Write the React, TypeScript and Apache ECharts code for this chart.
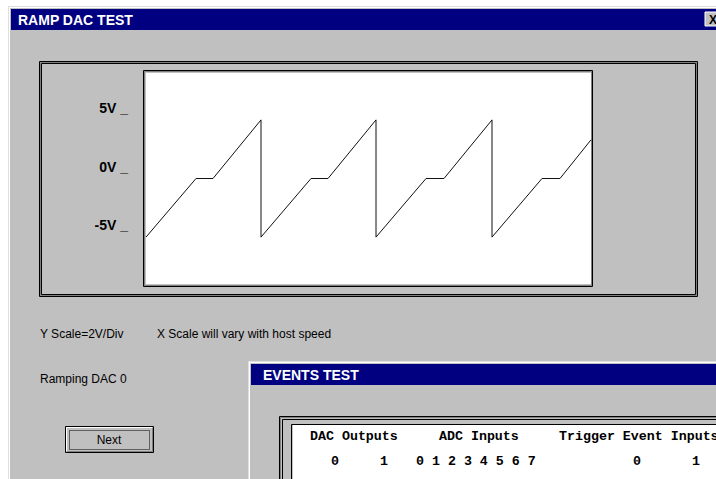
import React, { useEffect, useRef } from "react";
import * as echarts from "echarts";

// Ramp DAC trace (x = sample position, y = volts)
const rampTime = [0, 50, 67, 115, 115, 165, 182, 230, 230, 280, 298, 346, 346, 396, 414, 445];
const rampVolts = [-5, 0, 0, 5, -5, 0, 0, 5, -5, 0, 0, 5, -5, 0, 0, 3.3];
const yTickValues = [-5, 0, 5];
const yTickUnit = "V";

const windowTitle = "RAMP DAC TEST";
const scaleNoteY = "Y Scale=2V/Div";
const scaleNoteX = "X Scale will vary with host speed";
const statusText = "Ramping DAC 0";
const buttonText = "Next";
const eventsTitle = "EVENTS TEST";
const eventsHeaders = ["DAC Outputs", "ADC Inputs", "Trigger Event Inputs"];
const eventsRow = ["0", "1", "0 1 2 3 4 5 6 7", "0", "1"];

const SANS = "'Liberation Sans', Arial, sans-serif";
const MONO = "'Liberation Mono', 'Courier New', monospace";

function frameRect(x: number, y: number, w: number, h: number, stroke: string, z = 1) {
  return {
    type: "rect",
    z,
    silent: true,
    shape: { x, y, width: w, height: h },
    style: { fill: "none", stroke, lineWidth: 1 },
  };
}

function txt(x: number, y: number, text: string, opts: any = {}, z = 3) {
  return {
    type: "text",
    z,
    silent: true,
    x,
    y,
    style: {
      text,
      fill: opts.fill || "#000",
      font: opts.font || `12px ${SANS}`,
      textAlign: opts.align || "left",
      textVerticalAlign: "middle",
      verticalAlign: "middle",
    },
  };
}

export default function App() {
  const ref = useRef<HTMLDivElement>(null);

  useEffect(() => {
    if (!ref.current) return;
    const chart = echarts.init(ref.current, undefined, { renderer: "svg" });

    const elements: any[] = [
      // main window
      { type: "rect", z: 0, silent: true, shape: { x: 8, y: 6, width: 720, height: 480 }, style: { fill: "#dfdfdf" } },
      { type: "rect", z: 0, silent: true, shape: { x: 9, y: 7, width: 720, height: 480 }, style: { fill: "#ffffff" } },
      { type: "rect", z: 0, silent: true, shape: { x: 10, y: 8, width: 720, height: 480 }, style: { fill: "#c0c0c0" } },
      { type: "rect", z: 1, silent: true, shape: { x: 11, y: 9, width: 710, height: 21 }, style: { fill: "#000080" } },
      txt(18, 19.5, windowTitle, { fill: "#ffffff", font: `bold 14px ${SANS}` }),
      // close button
      { type: "rect", z: 2, silent: true, shape: { x: 705, y: 12, width: 16, height: 14 }, style: { fill: "#c0c0c0", stroke: "#ffffff", lineWidth: 1 } },
      txt(709, 19.5, "X", { font: `bold 12px ${SANS}` }),

      // outer chart frame
      frameRect(39.5, 61.5, 658, 235, "#000000"),
      frameRect(40.5, 62.5, 656, 233, "#808080"),
      frameRect(41.5, 63.5, 654, 231, "#000000"),

      // inner plot frame
      frameRect(143.5, 70.5, 449, 216, "#000000"),
      frameRect(144.5, 71.5, 447, 214, "#808080"),
      { type: "rect", z: 1, silent: true, shape: { x: 146, y: 73, width: 445, height: 211 }, style: { fill: "#ffffff" } },

      // notes
      txt(40, 334, scaleNoteY, { font: `12px ${SANS}` }),
      txt(157, 334, scaleNoteX, { font: `12px ${SANS}` }),
      txt(40, 379, statusText, { font: `12px ${SANS}` }),

      // Next button
      { type: "rect", z: 2, silent: true, shape: { x: 65.5, y: 426.5, width: 88, height: 26 }, style: { fill: "#c0c0c0", stroke: "#000000", lineWidth: 1 } },
      { type: "polyline", z: 2, silent: true, shape: { points: [[66.5, 451], [66.5, 427.5], [152, 427.5]] }, style: { stroke: "#ffffff", fill: "none", lineWidth: 1 } },
      { type: "polyline", z: 2, silent: true, shape: { points: [[67, 451.5], [152.5, 451.5], [152.5, 428]] }, style: { stroke: "#808080", fill: "none", lineWidth: 1 } },
      { type: "rect", z: 2, silent: true, shape: { x: 69.5, y: 430.5, width: 80, height: 19 }, style: { fill: "none", stroke: "#000000", lineWidth: 1, lineDash: [1, 1] } },
      txt(109, 440, buttonText, { font: `12px ${SANS}`, align: "center" }),

      // Events window
      { type: "rect", z: 6, silent: true, shape: { x: 248, y: 361, width: 480, height: 130 }, style: { fill: "#dfdfdf" } },
      { type: "rect", z: 6, silent: true, shape: { x: 249, y: 362, width: 480, height: 130 }, style: { fill: "#ffffff" } },
      { type: "rect", z: 6, silent: true, shape: { x: 250, y: 363, width: 480, height: 130 }, style: { fill: "#c0c0c0" } },
      { type: "rect", z: 6, silent: true, shape: { x: 251, y: 364, width: 470, height: 21 }, style: { fill: "#000080" } },
      txt(263, 374.5, eventsTitle, { fill: "#ffffff", font: `bold 14px ${SANS}` }, 7),
      frameRect(279.5, 416.5, 460, 80, "#000000", 7),
      frameRect(280.5, 417.5, 460, 80, "#808080", 7),
      frameRect(282.5, 419.5, 460, 80, "#000000", 7),
      frameRect(291.5, 424.5, 460, 80, "#000000", 7),
      { type: "rect", z: 7, silent: true, shape: { x: 293, y: 425, width: 430, height: 60 }, style: { fill: "#ffffff" } },
      txt(310, 436, eventsHeaders[0], { font: `bold 13.3px ${MONO}` }, 8),
      txt(439, 436, eventsHeaders[1], { font: `bold 13.3px ${MONO}` }, 8),
      txt(559, 436, eventsHeaders[2], { font: `bold 13.3px ${MONO}` }, 8),
      txt(331, 461, eventsRow[0], { font: `bold 13.3px ${MONO}` }, 8),
      txt(380, 461, eventsRow[1], { font: `bold 13.3px ${MONO}` }, 8),
      txt(416, 461, eventsRow[2], { font: `bold 13.3px ${MONO}` }, 8),
      txt(633, 461, eventsRow[3], { font: `bold 13.3px ${MONO}` }, 8),
      txt(692, 461, eventsRow[4], { font: `bold 13.3px ${MONO}` }, 8),
    ];

    chart.setOption({
      animation: false,
      backgroundColor: "#ffffff",
      grid: { left: 146, top: 73, width: 445, height: 211, show: false, containLabel: false },
      xAxis: { type: "value", min: 0, max: 445, show: false },
      yAxis: {
        type: "value",
        min: -9,
        max: 9,
        z: 4,
        axisLine: { show: false },
        axisTick: { show: false },
        splitLine: { show: false },
        axisLabel: {
          customValues: yTickValues,
          formatter: (v: number) => `${v}${yTickUnit} _`,
          color: "#000",
          fontWeight: "bold",
          fontSize: 14,
          fontFamily: SANS,
          margin: 18,
          verticalAlign: "bottom",
          padding: [0, 0, 5, 0],
        },
      },
      graphic: { elements },
      series: [
        {
          type: "line",
          z: 5,
          silent: true,
          showSymbol: false,
          lineStyle: { color: "#111111", width: 1 },
          data: rampTime.map((t, i) => [t, rampVolts[i]]),
        },
      ],
    });

    return () => chart.dispose();
  }, []);

  return (
    <div
      ref={ref}
      style={{ position: "fixed", left: 0, top: 0, width: 716, height: 479 }}
    />
  );
}
